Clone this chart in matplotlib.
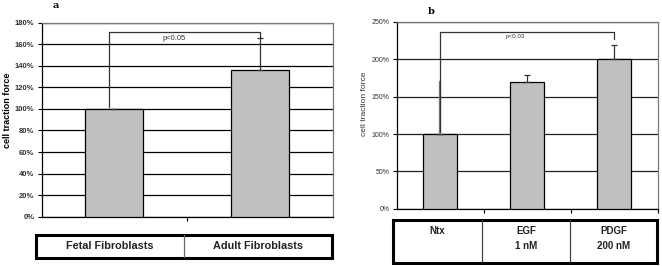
import matplotlib
matplotlib.use("Agg")
import matplotlib.pyplot as plt
from matplotlib.patches import Rectangle
from matplotlib.ticker import FuncFormatter

plt.rcParams['font.family'] = ['Liberation Sans', 'DejaVu Sans']

# ---- data ----
cats_a = ['Fetal Fibroblasts', 'Adult Fibroblasts']
vals_a = [100, 136]
err_a = [0, 30]
ticks_a = [0, 20, 40, 60, 80, 100, 120, 140, 160, 180]
p_a = 'p<0.05'

cats_b = ['Ntx', 'EGF\n1 nM', 'PDGF\n200 nM']
vals_b = [100, 170, 201]
err_b = [0, 9, 18]
ticks_b = [0, 50, 100, 150, 200, 250]
p_b = 'p<0.03'

W, H = 662, 266
fig = plt.figure(figsize=(W / 100, H / 100), dpi=100)


def box(x0, x1, ytop, ybot):
    return [x0 / W, 1 - ybot / H, (x1 - x0) / W, (ybot - ytop) / H]


pct = FuncFormatter(lambda v, _: f"{int(v)}%")
bar_color = '#c0c0c0'

# ---------- panel a ----------
axa = fig.add_axes(box(41.5, 332.5, 22.7, 216.7))
xa = list(range(len(cats_a)))
axa.bar(xa, vals_a, width=0.4, color=bar_color, edgecolor='black', linewidth=0.9, zorder=3)
axa.errorbar(xa, vals_a, yerr=[[0] * len(err_a), err_a], fmt='none', ecolor='#333333',
             elinewidth=0.9, capsize=2, capthick=0.9, zorder=4)
axa.set_xlim(-0.5, len(cats_a) - 0.5)
axa.set_ylim(0, 180)
axa.set_yticks(ticks_a)
axa.yaxis.set_major_formatter(pct)
axa.grid(axis='y', color='black', linewidth=0.9, zorder=0)
axa.set_axisbelow(True)
axa.set_xticks([0.5])
axa.set_xticklabels([])
axa.tick_params(axis='both', direction='out', length=3, width=0.8, labelsize=5.5, pad=2,
                labelcolor='#333333')
for lab in axa.get_yticklabels():
    lab.set_fontweight('bold')
for s in ['left', 'bottom']:
    axa.spines[s].set_color('black'); axa.spines[s].set_linewidth(0.9)
for s in ['top', 'right']:
    axa.spines[s].set_color('#777777'); axa.spines[s].set_linewidth(0.9)
axa.set_ylabel('cell traction force', fontsize=6.5, fontweight='bold')
axa.yaxis.set_label_coords(-0.103, 0.55)
# significance bracket
axa.plot([-0.036, -0.036, 1.0, 1.0], [102, 171, 171, 167], color='#333333', lw=0.9, zorder=5)
axa.text(0.41, 165, p_a, fontsize=5.5, ha='center', va='center', color='#333333')
fig.text(56 / W, 1 - 6 / H, 'a', fontsize=7, fontweight='bold', family='DejaVu Serif',
         ha='center', va='center')

# table a
ta = fig.add_axes(box(36, 332, 235, 257.5))
ta.set_xlim(0, 1); ta.set_ylim(0, 1); ta.axis('off')
ta.add_patch(Rectangle((0, 0), 1, 1, fill=False, lw=2.2, ec='black', clip_on=False))
ncol = len(cats_a)
for i in range(1, ncol):
    ta.plot([i / ncol, i / ncol], [0, 1], color='#666666', lw=0.9)
for i, c in enumerate(cats_a):
    ta.text((i + 0.5) / ncol, 0.5, c, ha='center', va='center', fontsize=7.8,
            fontweight='bold', color='#222222')

# ---------- panel b ----------
axb = fig.add_axes(box(396.7, 658, 22, 208.7))
xb = list(range(len(cats_b)))
axb.bar(xb, vals_b, width=0.39, color=bar_color, edgecolor='black', linewidth=0.9, zorder=3)
axb.errorbar(xb, vals_b, yerr=[[0] * len(err_b), err_b], fmt='none', ecolor='#333333',
             elinewidth=0.9, capsize=2, capthick=0.9, zorder=4)
axb.set_xlim(-0.5, len(cats_b) - 0.5)
axb.set_ylim(0, 250)
axb.set_yticks(ticks_b)
axb.yaxis.set_major_formatter(pct)
axb.grid(axis='y', color='#222222', linewidth=0.9, zorder=0)
axb.set_axisbelow(True)
axb.set_xticks([i + 0.5 for i in range(len(cats_b))])
axb.set_xticklabels([])
axb.tick_params(axis='both', direction='out', length=3, width=0.8, labelsize=5, pad=2,
                labelcolor='#333333')
for s in ['left', 'bottom']:
    axb.spines[s].set_color('black'); axb.spines[s].set_linewidth(0.9)
for s in ['top', 'right']:
    axb.spines[s].set_color('#777777'); axb.spines[s].set_linewidth(0.9)
axb.set_ylabel('cell traction force', fontsize=6, color='#333333')
axb.yaxis.set_label_coords(-0.11, 0.56)
axb.plot([0, 0], [103, 170], color='#777777', lw=1.6, zorder=5)
axb.plot([0, 0, 2, 2], [103, 236, 236, 227], color='#333333', lw=0.9, zorder=5)
axb.text(0.86, 231, p_b, fontsize=4.5, ha='center', va='center', color='#333333')
fig.text(431 / W, 1 - 12 / H, 'b', fontsize=7, fontweight='bold', family='DejaVu Serif',
         ha='center', va='center')

# table b
tb = fig.add_axes(box(393, 657, 220, 263))
tb.set_xlim(0, 1); tb.set_ylim(0, 1); tb.axis('off')
tb.add_patch(Rectangle((0, 0), 1, 1, fill=False, lw=2.2, ec='black', clip_on=False))
xs = [0, (482 - 393) / 264, (570 - 393) / 264, 1]
for x in xs[1:-1]:
    tb.plot([x, x], [0, 1], color='#444444', lw=0.9)
for i, c in enumerate(cats_b):
    tb.text((xs[i] + xs[i + 1]) / 2, 0.86, c, ha='center', va='top', fontsize=7,
            fontweight='bold', color='#222222', linespacing=1.6)

fig.savefig('out.png', dpi=100)
